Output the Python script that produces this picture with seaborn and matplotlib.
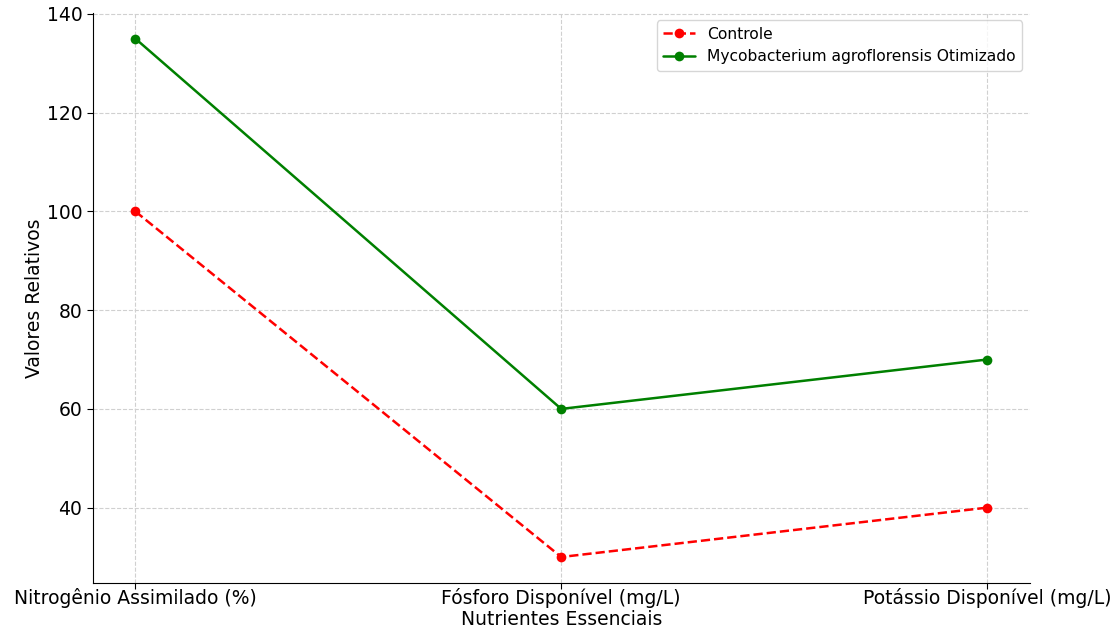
import seaborn as sns
import matplotlib.pyplot as plt
import pandas as pd

# data
nutrientes = ['Nitrogênio Assimilado (%)', 'Fósforo Disponível (mg/L)', 'Potássio Disponível (mg/L)']
controle = [100, 30, 40]
otimizado = [135, 60, 70]

df = pd.DataFrame({'Nutriente': nutrientes, 'Controle': controle,
                   'Mycobacterium agroflorensis Otimizado': otimizado})

sns.set_style('whitegrid', {'grid.linestyle': '--', 'grid.color': '#d0d0d0',
                            'text.color': 'black', 'axes.labelcolor': 'black',
                            'xtick.color': 'black', 'ytick.color': 'black'})
plt.rcParams['font.family'] = ['DejaVu Sans']

fig = plt.figure(figsize=(11.18, 6.35), dpi=100)
ax = fig.add_axes([0.083, 0.082, 0.838, 0.898])

sns.lineplot(x='Nutriente', y='Controle', data=df, ax=ax, color='red', linestyle='--',
             marker='o', markersize=7, markeredgewidth=0, linewidth=1.8, label='Controle', sort=False)
sns.lineplot(x='Nutriente', y='Mycobacterium agroflorensis Otimizado', data=df, ax=ax, color='green',
             marker='o', markersize=7, markeredgewidth=0, linewidth=1.8,
             label='Mycobacterium agroflorensis Otimizado', sort=False)

ax.set_xlabel('Nutrientes Essenciais', fontsize=13.5, labelpad=1)
ax.set_ylabel('Valores Relativos', fontsize=13.5, labelpad=2)
ax.tick_params(axis='both', labelsize=13.5, length=4, color='black', left=True, bottom=True)
ax.tick_params(axis='x', pad=0)
ax.set_yticks([40, 60, 80, 100, 120, 140])
for s in ['left', 'bottom']:
    ax.spines[s].set_color('black')
sns.despine(ax=ax)
ax.legend(loc='upper right', fontsize=11.2)

plt.savefig('out.png', dpi=100)
